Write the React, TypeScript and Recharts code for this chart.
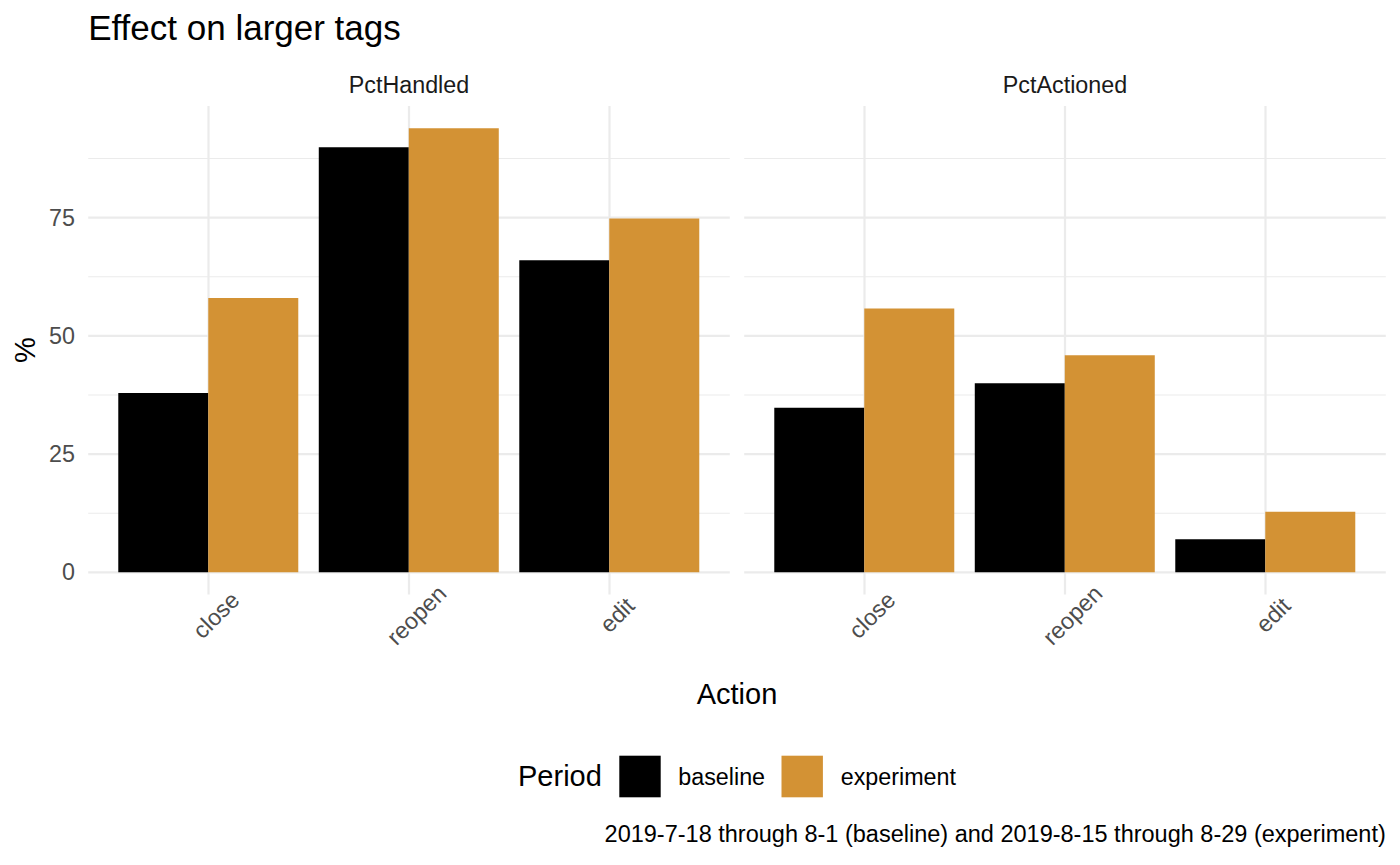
import React from 'react';
import { BarChart, Bar, XAxis, YAxis, CartesianGrid } from 'recharts';

const actions = ['close', 'reopen', 'edit'];
const handledBaseline = [37.9, 89.9, 66.0];
const handledExperiment = [58.0, 93.9, 74.8];
const actionedBaseline = [34.8, 40.0, 7.0];
const actionedExperiment = [55.8, 45.9, 12.8];
const yTicks = [0, 25, 50, 75];
const yMinorTicks = [12.5, 37.5, 62.5, 87.5];
const facetLabels = ['PctHandled', 'PctActioned'];
const periods = ['baseline', 'experiment'];

const COLORS = { baseline: '#000000', experiment: '#D39234' };
const FONT = '"Liberation Sans", Arial, Helvetica, sans-serif';
const GRID = '#EBEBEB';

const maxVal = Math.max(...handledBaseline, ...handledExperiment, ...actionedBaseline, ...actionedExperiment);
const yDomain: [number, number] = [-0.05 * maxVal, maxVal * 1.05];

const handledData = actions.map((a, i) => ({ action: a, baseline: handledBaseline[i], experiment: handledExperiment[i] }));
const actionedData = actions.map((a, i) => ({ action: a, baseline: actionedBaseline[i], experiment: actionedExperiment[i] }));

const XTick = (props: any) => {
  const { x, payload } = props;
  const cx = x + 7.5;
  const cy = 615;
  return (
    <text x={cx} y={cy} dy="0.35em" textAnchor="middle" transform={`rotate(-45 ${cx} ${cy})`}
      fontSize={23.3} fill="#4D4D4D" fontFamily={FONT}>{payload.value}</text>
  );
};

const YTick = (props: any) => {
  const { y, payload } = props;
  return (
    <text x={75} y={y} dy="0.35em" textAnchor="end" fontSize={23.3} fill="#4D4D4D" fontFamily={FONT}>{payload.value}</text>
  );
};

const PAD = 20.05;
const GAP = 10.03;

function Panel({ data, showY, width, margin }: { data: any[]; showY: boolean; width: number; margin: any }) {
  return (
    <BarChart width={width} height={700} data={data} margin={margin} barGap={0} barCategoryGap={GAP}>
      <CartesianGrid stroke={GRID} strokeWidth={1.1} vertical={false} horizontalValues={yMinorTicks} />
      <CartesianGrid stroke={GRID} strokeWidth={2.2} vertical={false} horizontalValues={yTicks} />
      <CartesianGrid stroke={GRID} strokeWidth={2.2} horizontal={false} verticalValues={actions} />
      <XAxis dataKey="action" type="category" height={105.5} padding={{ left: PAD, right: PAD }}
        axisLine={false} tickLine={false} tickSize={0} tickMargin={0} interval={0} tick={<XTick />} />
      {showY ? (
        <YAxis type="number" domain={yDomain} ticks={yTicks} width={88.2} axisLine={false} tickLine={false}
          tick={<YTick />} allowDataOverflow />
      ) : (
        <YAxis type="number" domain={yDomain} ticks={yTicks} hide allowDataOverflow />
      )}
      <Bar dataKey="baseline" fill={COLORS.baseline} isAnimationActive={false} />
      <Bar dataKey="experiment" fill={COLORS.experiment} isAnimationActive={false} />
    </BarChart>
  );
}

export default function App() {
  return (
    <div style={{ position: 'absolute', left: 0, top: 0, width: 1400, height: 865, background: '#fff', fontFamily: FONT }}>
      <div style={{ position: 'absolute', left: 0, top: 0 }}>
        <Panel data={handledData} showY width={740} margin={{ top: 106.1, right: 10.2, bottom: 0, left: 0 }} />
      </div>
      <div style={{ position: 'absolute', left: 740, top: 0 }}>
        <Panel data={actionedData} showY={false} width={660} margin={{ top: 106.1, right: 14.2, bottom: 0, left: 4.2 }} />
      </div>
      <svg width={1400} height={865} style={{ position: 'absolute', left: 0, top: 0, pointerEvents: 'none' }} fontFamily={FONT}>
        <text x={88.2} y={39.5} fontSize={35} fill="#000">Effect on larger tags</text>
        <text x={409} y={92.7} fontSize={23.3} fill="#1A1A1A" textAnchor="middle">{facetLabels[0]}</text>
        <text x={1065} y={92.7} fontSize={23.3} fill="#1A1A1A" textAnchor="middle">{facetLabels[1]}</text>
        <text x={35} y={350} fontSize={29} fill="#000" textAnchor="middle" transform="rotate(-90 35 350)">%</text>
        <text x={737} y={704} fontSize={29} fill="#000" textAnchor="middle">Action</text>
        <text x={518} y={786} fontSize={29} fill="#000">Period</text>
        <rect x={619.3} y={755.7} width={41.4} height={41.6} fill={COLORS.baseline} />
        <text x={678.3} y={784.5} fontSize={23.3} fill="#000">{periods[0]}</text>
        <rect x={781.5} y={755.7} width={41.4} height={41.6} fill={COLORS.experiment} />
        <text x={840.7} y={784.5} fontSize={23.3} fill="#000">{periods[1]}</text>
        <text x={1385.8} y={842} fontSize={23.5} fill="#000" textAnchor="end">2019-7-18 through 8-1 (baseline) and 2019-8-15 through 8-29 (experiment)</text>
      </svg>
    </div>
  );
}
